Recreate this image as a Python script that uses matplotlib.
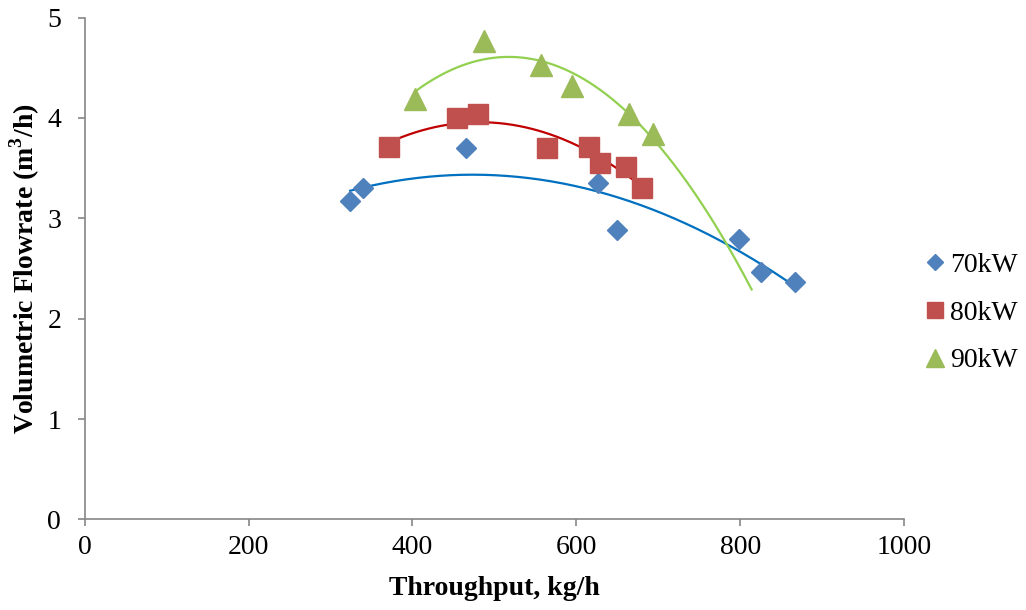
import numpy as np
import matplotlib
matplotlib.use("Agg")
import matplotlib.pyplot as plt

plt.rcParams['font.family'] = ['Liberation Serif', 'DejaVu Serif']
plt.rcParams['mathtext.fontset'] = 'custom'
plt.rcParams['mathtext.rm'] = 'Liberation Serif'
plt.rcParams['mathtext.bf'] = 'Liberation Serif:bold'

# data
x70 = [324, 340, 465, 626, 650, 798, 826, 867]
y70 = [3.17, 3.30, 3.70, 3.35, 2.88, 2.79, 2.47, 2.37]
x80 = [371, 454, 480, 564, 616, 629, 661, 680]
y80 = [3.71, 4.00, 4.04, 3.70, 3.71, 3.55, 3.51, 3.30]
x90 = [403, 487, 557, 595, 664, 694]
y90 = [4.19, 4.77, 4.53, 4.32, 4.04, 3.84]
labels = ['70kW', '80kW', '90kW']
forecast90 = 120

fig = plt.figure(figsize=(10.26, 6.10), dpi=100)
ax = fig.add_axes([0.0826, 0.1484, 0.7985, 0.8229])

series = [
    (x70, y70, 'D', 10, '#4F81BD', '#0070C0', 0),
    (x80, y80, 's', 14, '#C0504D', '#C00000', 0),
    (x90, y90, '^', 16, '#9BBB59', '#92D050', forecast90),
]
handles = []
for (xs, ys, mk, ms, col, lcol, fwd), lab in zip(series, labels):
    xs = np.array(xs, dtype=float)
    ys = np.array(ys, dtype=float)
    h, = ax.plot(xs, ys, linestyle='none', marker=mk, markersize=ms,
                 color=col, markeredgecolor=col, label=lab, zorder=3)
    handles.append(h)
    c = np.polyfit(xs, ys, 2)
    xx = np.linspace(xs.min(), xs.max() + fwd, 200)
    ax.plot(xx, np.polyval(c, xx), color=lcol, lw=1.6, zorder=2)

ax.set_xlim(0, 1000)
ax.set_ylim(0, 5)
ax.set_xticks(np.arange(0, 1001, 200))
ax.set_yticks(np.arange(0, 6, 1))
for s in ['top', 'right']:
    ax.spines[s].set_visible(False)
for s in ['left', 'bottom']:
    ax.spines[s].set_color('#868686')
    ax.spines[s].set_linewidth(1.2)
ax.tick_params(axis='both', colors='#868686', labelcolor='black',
               labelsize=20, length=5, width=1.2, direction='out')
ax.tick_params(axis='x', pad=6)
ax.tick_params(axis='y', pad=12)

ax.set_xlabel('Throughput, kg/h', fontsize=20, fontweight='bold', labelpad=12)
ax.set_ylabel(r'Volumetric Flowrate (m$^\mathbf{3}$/h)', fontsize=20,
              fontweight='bold', labelpad=4)

fig.legend(handles=handles, labels=labels, loc='center left',
           bbox_to_anchor=(0.877, 0.487), frameon=False, fontsize=20,
           handlelength=0.7, handletextpad=0.2, labelspacing=0.8,
           markerscale=0.85)

fig.savefig('out.png', dpi=100)
